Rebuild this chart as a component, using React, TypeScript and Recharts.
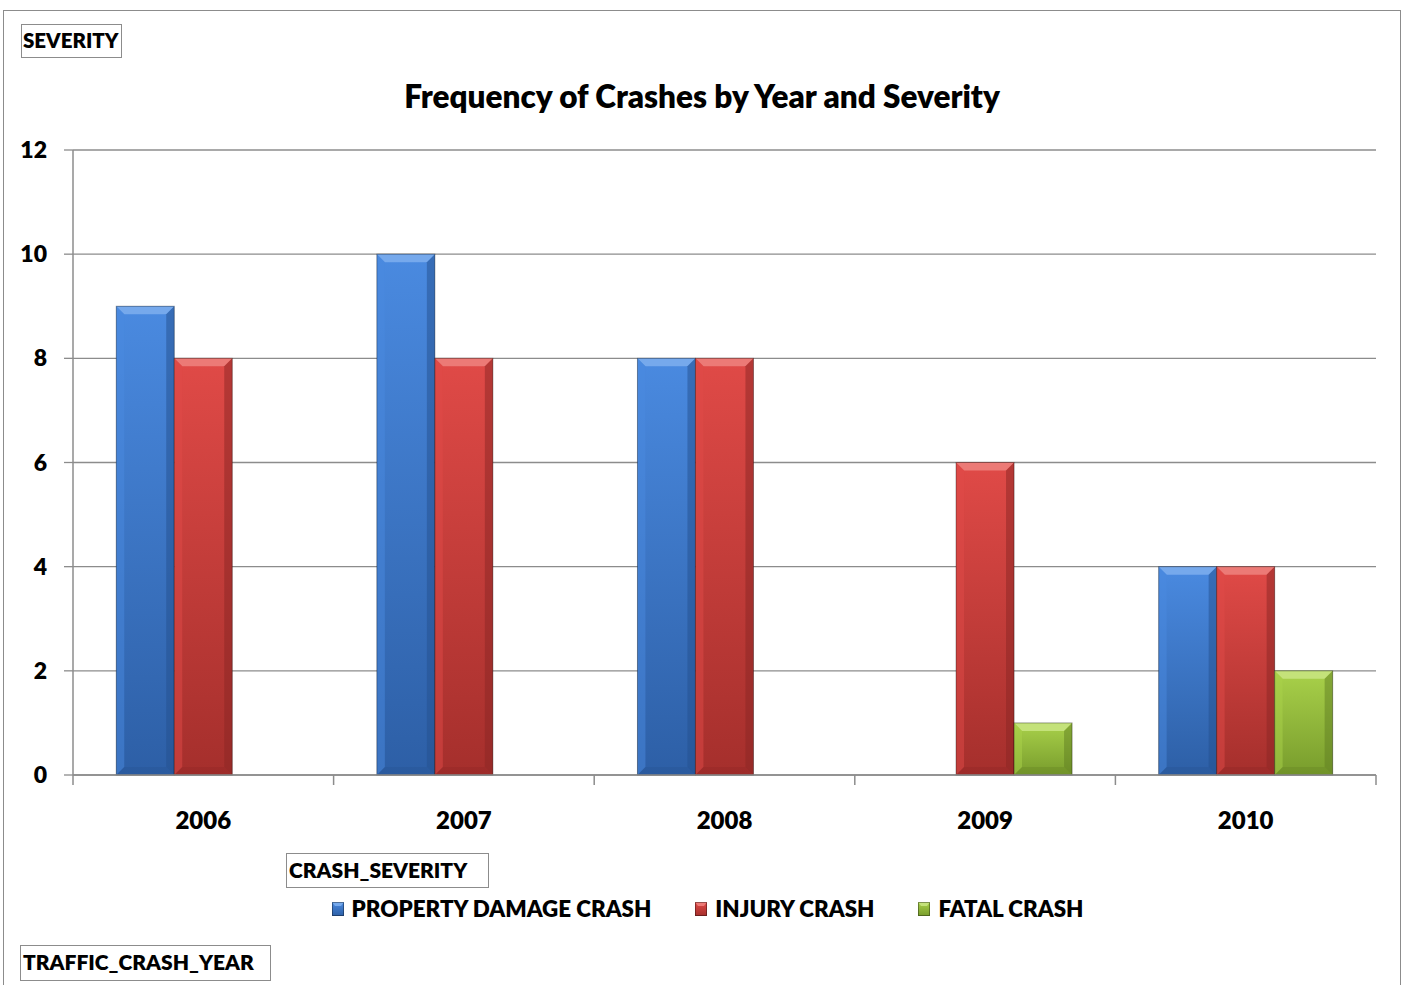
import { BarChart, Bar, XAxis, YAxis, CartesianGrid, Legend } from "recharts";

const years = ["2006", "2007", "2008", "2009", "2010"];
const propertyDamage = [9, 10, 8, null, 4];
const injury = [8, 8, 8, 6, 4];
const fatal = [null, null, null, 1, 2];
const yTicks = [0, 2, 4, 6, 8, 10, 12];

const series = [
  { key: "property", name: "PROPERTY DAMAGE CRASH", top: "#4a8ae0", bottom: "#2d5fa6", bevel: "#76a9ec", edge: "#24508e" },
  { key: "injury", name: "INJURY CRASH", top: "#e04a47", bottom: "#a52f2c", bevel: "#ec7a76", edge: "#8a2624" },
  { key: "fatal", name: "FATAL CRASH", top: "#a9d14a", bottom: "#789c2c", bevel: "#c4e27a", edge: "#5f7d22" },
];

const data = years.map((year, i) => ({
  year,
  property: propertyDamage[i],
  injury: injury[i],
  fatal: fatal[i],
}));

const FONT = "Lato, 'Open Sans', sans-serif";
const WEIGHT = 800;
const GRID = "#8c8c8c";

function bevelShape(s: (typeof series)[number]) {
  return (props: any) => {
    const { x, y, width, height } = props;
    if (!height || height <= 0) return <g />;
    const b = Math.min(8, height / 2);
    return (
      <g>
        <rect x={x} y={y} width={width} height={height} fill={`url(#grad-${s.key})`} />
        <polygon
          points={`${x},${y} ${x + width},${y} ${x + width - b},${y + b} ${x + b},${y + b}`}
          fill={s.bevel}
        />
        <polygon
          points={`${x},${y} ${x + b},${y + b} ${x + b},${y + height - b} ${x},${y + height}`}
          fill={s.top}
          opacity={0.5}
        />
        <polygon
          points={`${x + width},${y} ${x + width - b},${y + b} ${x + width - b},${y + height - b} ${x + width},${y + height}`}
          fill={s.edge}
          opacity={0.5}
        />
        <polygon
          points={`${x},${y + height} ${x + b},${y + height - b} ${x + width - b},${y + height - b} ${x + width},${y + height}`}
          fill={s.edge}
          opacity={0.3}
        />
        <rect x={x} y={y} width={width} height={height} fill="none" stroke="rgba(0,0,0,0.35)" strokeWidth={1} />
      </g>
    );
  };
}

function YearTick(props: any) {
  const { x, y, payload, index } = props;
  const half = payload?.offset || 130.3;
  return (
    <g>
      <line x1={x - half} y1={y} x2={x - half} y2={y + 10} stroke={GRID} strokeWidth={1.5} />
      {index === years.length - 1 && (
        <line x1={x + half} y1={y} x2={x + half} y2={y + 10} stroke={GRID} strokeWidth={1.5} />
      )}
      <text x={x} y={y + 54} textAnchor="middle" fontFamily={FONT} fontWeight={WEIGHT} fontSize={24} fill="#000">
        {payload.value}
      </text>
    </g>
  );
}

function LegendContent() {
  return (
    <div style={{ display: "flex", justifyContent: "center", gap: 44, fontFamily: FONT, fontWeight: WEIGHT, fontSize: 22.4, color: "#000" }}>
      {series.map((s) => (
        <div key={s.key} style={{ display: "flex", alignItems: "center", gap: 8 }}>
          <svg width={12} height={14}>
            <rect x={0} y={0} width={12} height={14} fill={`url(#leg-${s.key})`} />
            <polygon points="0,0 12,0 9,4 3,4" fill={s.bevel} />
            <rect x={0.5} y={0.5} width={11} height={13} fill="none" stroke="rgba(0,0,0,0.35)" />
            <defs>
              <linearGradient id={`leg-${s.key}`} x1="0" y1="0" x2="0" y2="1">
                <stop offset="0%" stopColor={s.top} />
                <stop offset="100%" stopColor={s.bottom} />
              </linearGradient>
            </defs>
          </svg>
          <span>{s.name}</span>
        </div>
      ))}
    </div>
  );
}

const boxStyle: React.CSSProperties = {
  position: "absolute",
  boxSizing: "border-box",
  border: "1.5px solid #8c8c8c",
  fontFamily: FONT,
  fontWeight: WEIGHT,
  fontSize: 21,
  color: "#000",
  lineHeight: "31px",
  padding: "0 2px",
  whiteSpace: "nowrap",
  background: "#fff",
};

export default function App() {
  return (
    <div style={{ position: "fixed", left: 0, top: 0, width: 1403, height: 985, overflow: "hidden", background: "#fff" }}>
      <div style={{ position: "absolute", left: 3, top: 10, width: 1396, height: 1000, border: "1.5px solid #8c8c8c" }} />
      <div style={{ position: "absolute", left: 3, width: 1398, top: 77, textAlign: "center", fontFamily: FONT, fontWeight: WEIGHT, fontSize: 31.5, color: "#000" }}>
        Frequency of Crashes by Year and Severity
      </div>
      <div style={{ position: "absolute", left: 0, top: 0 }}>
        <BarChart
          width={1403}
          height={985}
          data={data}
          margin={{ top: 150, right: 27, left: 0, bottom: 170 }}
          barCategoryGap="16.6%"
          barGap={0}
        >
          <defs>
            {series.map((s) => (
              <linearGradient key={s.key} id={`grad-${s.key}`} x1="0" y1="0" x2="0" y2="1">
                <stop offset="0%" stopColor={s.top} />
                <stop offset="100%" stopColor={s.bottom} />
              </linearGradient>
            ))}
          </defs>
          <CartesianGrid vertical={false} stroke={GRID} strokeWidth={1.3} />
          <XAxis
            dataKey="year"
            height={40}
            tickLine={false}
            tickSize={0}
            tickMargin={0}
            axisLine={{ stroke: GRID, strokeWidth: 1.5 }}
            tick={<YearTick />}
            interval={0}
          />
          <YAxis
            width={73}
            domain={[0, 12]}
            ticks={yTicks}
            tickSize={9}
            tickMargin={17}
            tickLine={{ stroke: GRID, strokeWidth: 1.3 }}
            axisLine={{ stroke: GRID, strokeWidth: 1.5 }}
            tick={{ fill: "#000", fontFamily: FONT, fontWeight: WEIGHT, fontSize: 23 }}
          />
          {series.map((s) => (
            <Bar key={s.key} dataKey={s.key} name={s.name} shape={bevelShape(s)} isAnimationActive={false} />
          ))}
          <Legend
            layout="horizontal"
            verticalAlign="middle"
            content={<LegendContent />}
            wrapperStyle={{ position: "absolute", top: 895, left: 6, width: 1403 }}
          />
        </BarChart>
      </div>
      <div style={{ ...boxStyle, left: 21, top: 24, width: 101, height: 34, padding: "0 1px", fontSize: 20.5 }}>SEVERITY</div>
      <div style={{ ...boxStyle, left: 286, top: 853, width: 203, height: 35 }}>CRASH_SEVERITY</div>
      <div style={{ ...boxStyle, left: 20, top: 945, width: 251, height: 36 }}>TRAFFIC_CRASH_YEAR</div>
    </div>
  );
}
